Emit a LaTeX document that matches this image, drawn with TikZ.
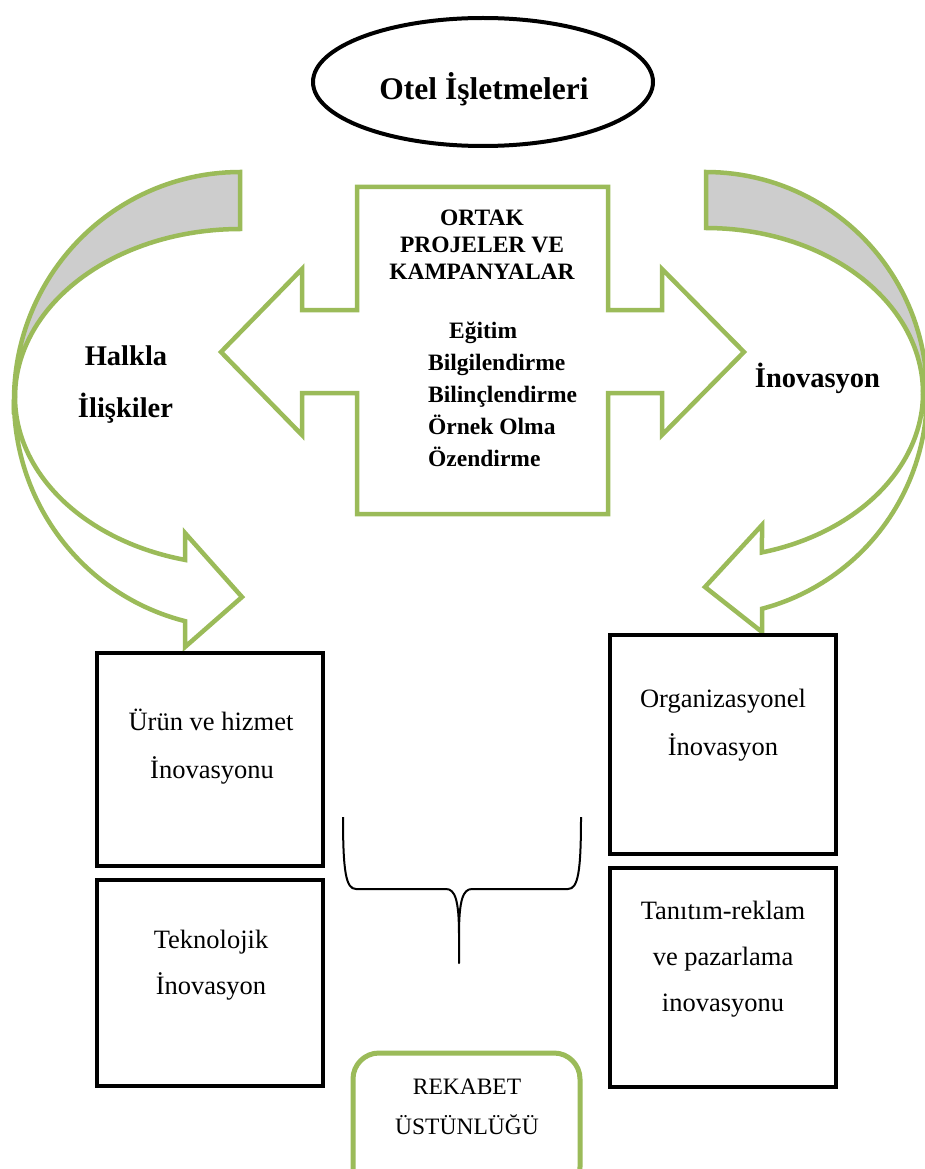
\documentclass[tikz,border=0pt]{standalone}
\usepackage{fontspec}
\setmainfont{Liberation Serif}
\usetikzlibrary{shapes.geometric}
\definecolor{ogreen}{RGB}{155,187,89}
\definecolor{bandgray}{RGB}{205,205,205}
\begin{document}
\begin{tikzpicture}[x=1pt,y=-1pt,
  greenline/.style={draw=ogreen, line width=4.5pt},
  backband/.style={greenline, fill=bandgray},
  frontband/.style={greenline, fill=white},
  blackbox/.style={draw=black, line width=4.5pt, rectangle, inner sep=0pt, outer sep=0pt, fill=white},
  greenbox/.style={draw=ogreen, line width=5pt, rectangle, rounded corners=26pt, inner sep=0pt, outer sep=0pt, fill=white},
  titletxt/.style={font=\fontsize{31.5}{37}\selectfont\bfseries, inner sep=0pt, anchor=base},
  sidetxt/.style={font=\fontsize{28.5}{34}\selectfont\bfseries, inner sep=0pt, anchor=base},
  midtxt/.style={font=\fontsize{23.5}{28}\selectfont\bfseries, inner sep=0pt, anchor=base},
  listtxt/.style={font=\fontsize{23.5}{28}\selectfont\bfseries, inner sep=0pt, anchor=base west},
  boxtxt/.style={font=\fontsize{26.5}{31}\selectfont, inner sep=0pt, anchor=base},
  rektxt/.style={font=\fontsize{23.5}{28}\selectfont, inner sep=0pt, anchor=base},
  bracestyle/.style={draw=black, line width=2pt, line join=round}
]
\useasboundingbox (0,0) rectangle (925,1169);
\clip (0,0) rectangle (925,1169);
\fill[white] (0,0) rectangle (925,1169);

% left curved arrow
\draw[backband] plot[domain=270:180, samples=50] ({240+226*cos(\x)},{400+228*sin(\x)})
  -- plot[domain=180:270, samples=50] ({240+225*cos(\x)},{397+168*sin(\x)}) -- cycle;
\draw[frontband] plot[domain=180:104.08, samples=50] ({240+226*cos(\x)},{400+228*sin(\x)})
  -- (185,647) -- (242,597) -- (185,533)
  -- plot[domain=104.15:180, samples=50] ({240+225*cos(\x)},{397+168*sin(\x)}) -- cycle;

% right curved arrow
\draw[backband] plot[domain=270:360, samples=50] ({706+221*cos(\x)},{394+222*sin(\x)})
  -- plot[domain=360:270, samples=50] ({706+217*cos(\x)},{393+165*sin(\x)}) -- cycle;
\draw[frontband] plot[domain=0:75.3, samples=50] ({706+221*cos(\x)},{394+222*sin(\x)})
  -- (762,632) -- (705,587) -- (762,525)
  -- plot[domain=75.05:0, samples=50] ({706+217*cos(\x)},{393+165*sin(\x)}) -- cycle;

% central double arrow
\draw[frontband] (357,187) -- (608,187) -- (608,310) -- (662,310) -- (662,269) -- (744,352)
  -- (662,435) -- (662,393) -- (608,393) -- (608,514) -- (357,514) -- (357,393)
  -- (302,393) -- (302,435) -- (221,352) -- (302,269) -- (302,310) -- (357,310) -- cycle;

% title ellipse
\node[draw=black, line width=4pt, ellipse, minimum width=340pt, minimum height=128pt, inner sep=0pt] (oval) at (483,82) {};
\node[titletxt] (otel) at (484,100) {Otel İşletmeleri};

% side labels
\node[sidetxt] (halkla) at (126,365) {Halkla};
\node[sidetxt] (iliskiler) at (125.5,417) {İlişkiler};
\node[sidetxt] (inov) at (817.5,387) {İnovasyon};

% central texts
\node[midtxt] (ortak) at (482,225) {ORTAK};
\node[midtxt] (projeler) at (482,252) {PROJELER VE};
\node[midtxt] (kampanya) at (482,279) {KAMPANYALAR};
\node[listtxt] (egitim) at (449,338) {Eğitim};
\node[listtxt] (bilgi) at (428,370) {Bilgilendirme};
\node[listtxt] (bilinc) at (428,402) {Bilinçlendirme};
\node[listtxt] (ornek) at (428,434) {Örnek Olma};
\node[listtxt] (ozen) at (428,466) {Özendirme};

% boxes
\node[blackbox, minimum width=226pt, minimum height=213pt] (b1) at (210,759.5) {};
\node[blackbox, minimum width=226pt, minimum height=206pt] (b2) at (210,983) {};
\node[blackbox, minimum width=226pt, minimum height=219pt] (b3) at (723,744.5) {};
\node[blackbox, minimum width=226pt, minimum height=219pt] (b4) at (723,977.5) {};

\node[boxtxt] (t1a) at (211,730) {Ürün ve hizmet};
\node[boxtxt] (t1b) at (212,778) {İnovasyonu};
\node[boxtxt] (t2a) at (211,948) {Teknolojik};
\node[boxtxt] (t2b) at (211,994) {İnovasyon};
\node[boxtxt] (t3a) at (723,707) {Organizasyonel};
\node[boxtxt] (t3b) at (723,755) {İnovasyon};
\node[boxtxt] (t4a) at (723,919) {Tanıtım-reklam};
\node[boxtxt] (t4b) at (723,965) {ve pazarlama};
\node[boxtxt] (t4c) at (723,1011) {inovasyonu};

% brace
\coordinate (brL) at (343,817);
\coordinate (brR) at (581,817);
\coordinate (brT) at (459,963);
\draw[bracestyle] (brL) .. controls (343,872) and (346,889) .. (356,889) -- (446,889)
  .. controls (455,889) and (459,900) .. (459,935) -- (brT) -- (459,935)
  .. controls (459,900) and (463,889) .. (472,889) -- (568,889)
  .. controls (578,889) and (581,872) .. (brR);

% competitive advantage box
\node[greenbox, minimum width=227pt, minimum height=140pt] (rek) at (466.5,1123) {};
\node[rektxt] (rek1) at (467,1094) {REKABET};
\node[rektxt] (rek2) at (467,1134) {ÜSTÜNLÜĞÜ};
\end{tikzpicture}
\end{document}
